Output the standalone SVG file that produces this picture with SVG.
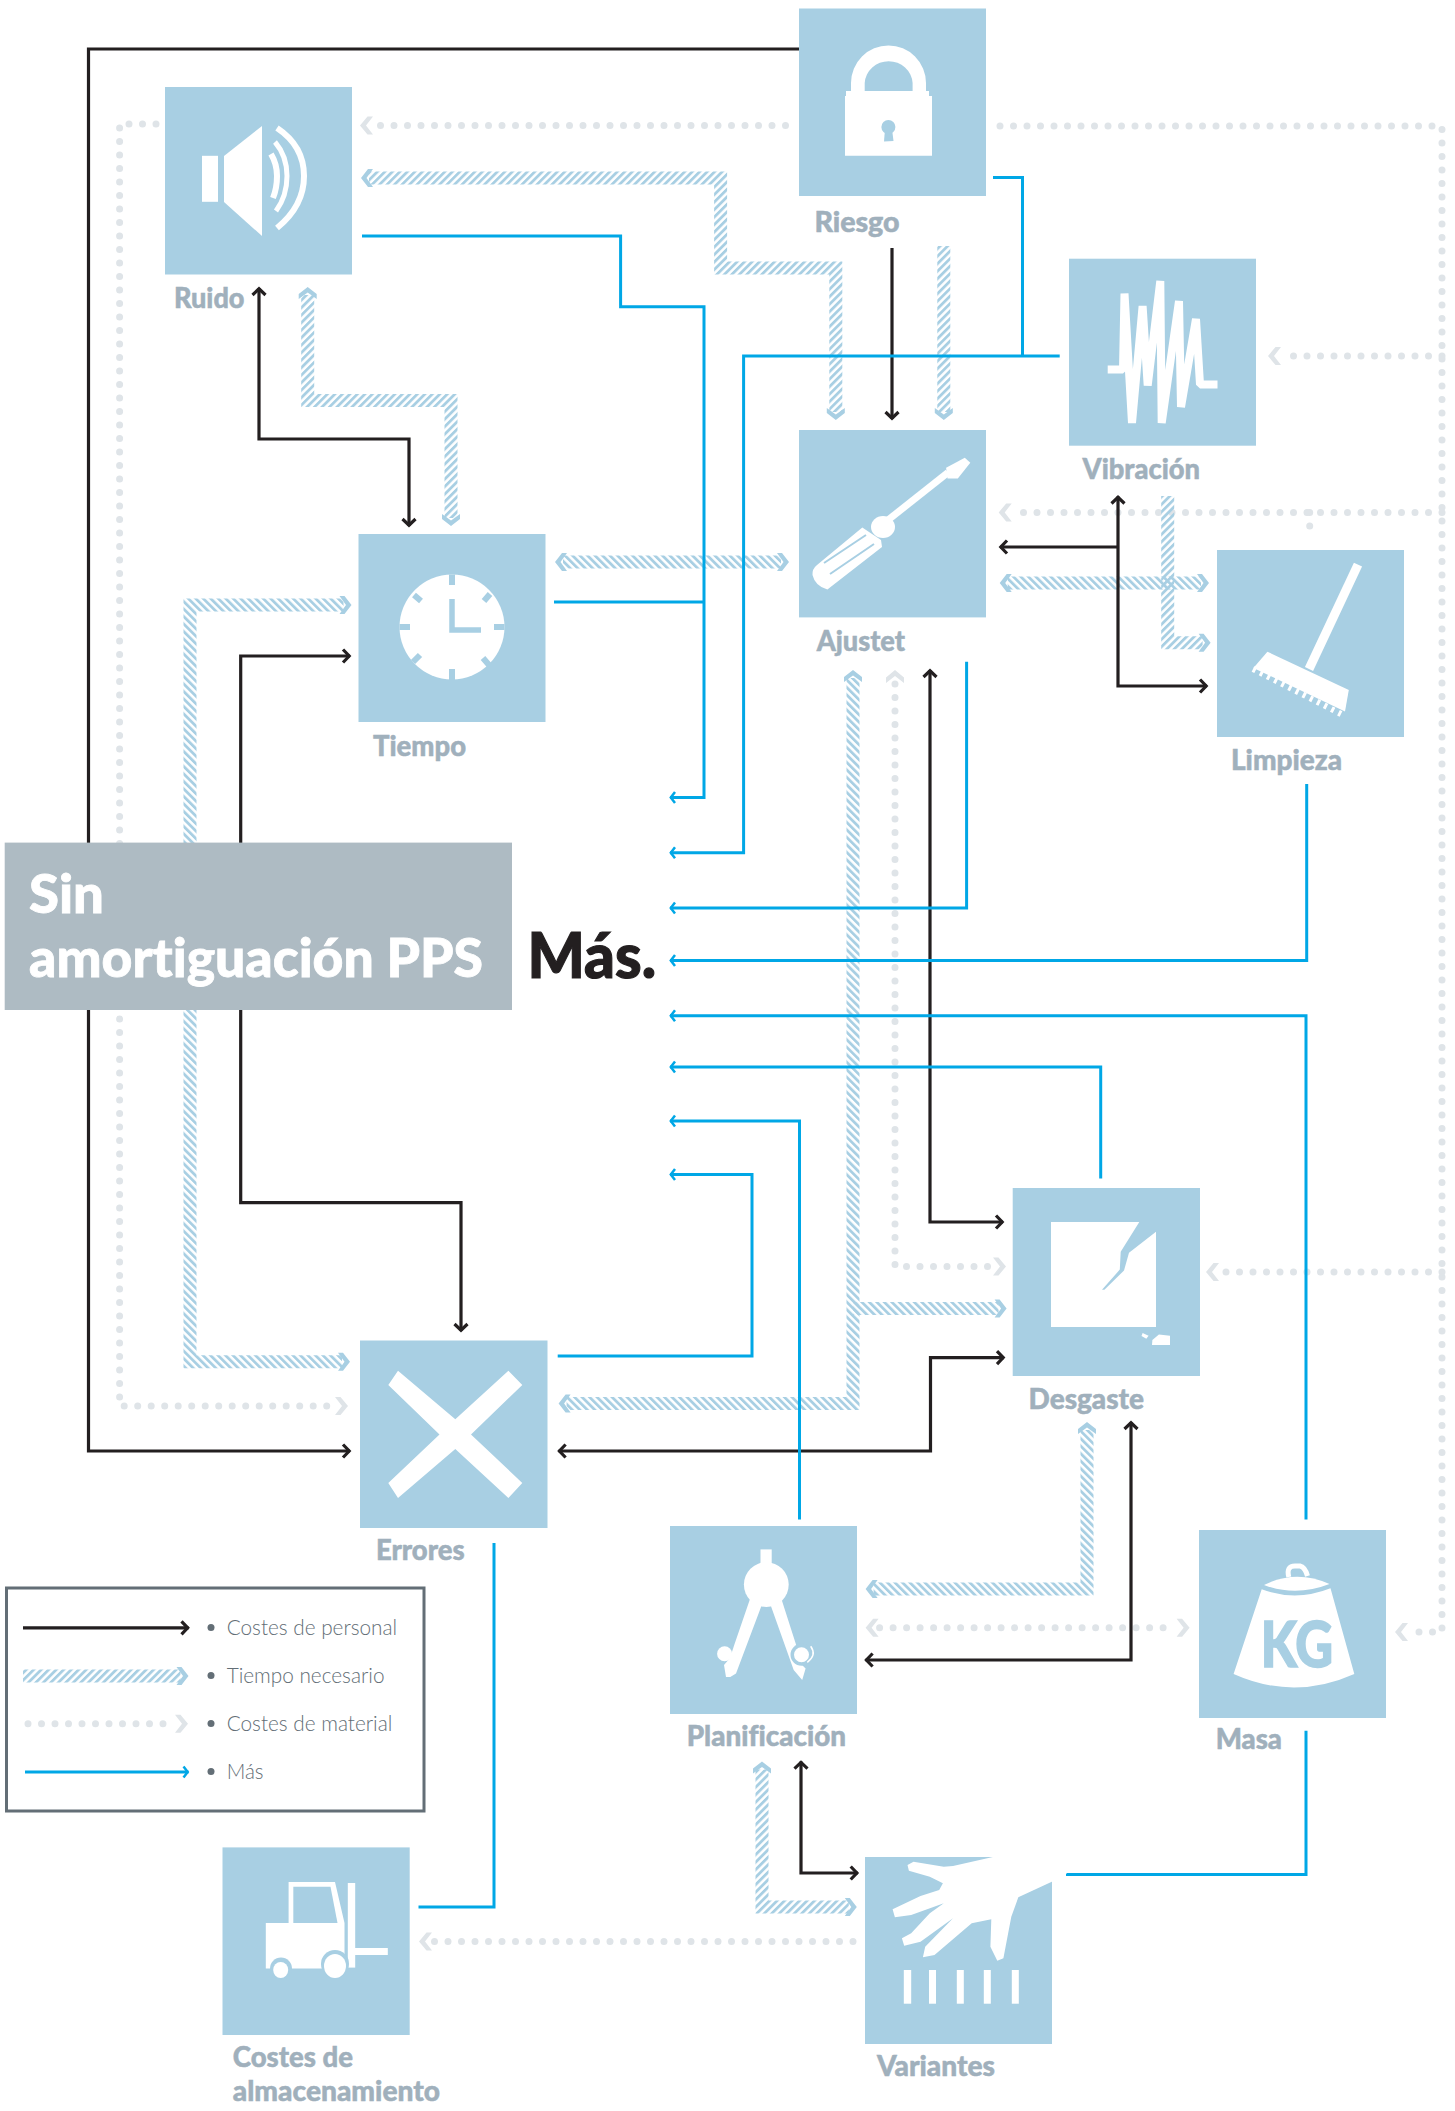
<svg xmlns="http://www.w3.org/2000/svg" width="1455" height="2111" viewBox="0 0 1455 2111">
<style>
text{font-family:Lato,"Noto Sans","Liberation Sans",sans-serif;font-variant-ligatures:none}
.lb{font-size:28px;font-weight:900;fill:#a0b0bc;stroke:#a0b0bc;stroke-width:.5}
.lg{font-size:22px;font-weight:300;fill:#636e76}
.tt{font-size:54px;font-weight:900;fill:#fff;stroke:#fff;stroke-width:.8}
.box{fill:#a8cfe3}
.w{fill:#fff}
.ws{fill:none;stroke:#fff}
.bs{fill:none;stroke:#a8cfe3}
path.c{fill:none}
.k{stroke:#231f20;stroke-width:3.2}
.u{stroke:#00a7e6;stroke-width:3}
.d{stroke:#dfe4e8;stroke-width:7;stroke-linecap:round;stroke-dasharray:0 13.5}
.hf{stroke:url(#hf);stroke-width:13}
.hb{stroke:url(#hb);stroke-width:13}
.ke{marker-end:url(#mk)}.kb{marker-start:url(#mk);marker-end:url(#mk)}
.ue{marker-end:url(#mu)}
.de{marker-end:url(#md)}.db{marker-start:url(#md);marker-end:url(#md)}
.he{marker-end:url(#mh)}.hh{marker-start:url(#mh);marker-end:url(#mh)}
</style>
<defs>
<pattern id="hf" patternUnits="userSpaceOnUse" width="5.3" height="10" patternTransform="rotate(45)"><rect width="2.8" height="10" fill="#a8cfe3"/></pattern>
<pattern id="hb" patternUnits="userSpaceOnUse" width="5.3" height="10" patternTransform="rotate(-45)"><rect width="2.8" height="10" fill="#a8cfe3"/></pattern>
<marker id="mk" markerUnits="userSpaceOnUse" orient="auto-start-reverse" refX="0" refY="0" markerWidth="30" markerHeight="30" viewBox="-15 -15 30 30"><path d="M-7,-6.5 L-0.8,0 L-7,6.5" fill="none" stroke="#231f20" stroke-width="3.2"/></marker>
<marker id="mu" markerUnits="userSpaceOnUse" orient="auto-start-reverse" refX="0" refY="0" markerWidth="30" markerHeight="30" viewBox="-15 -15 30 30"><path d="M-5,-5.5 L-0.8,0 L-5,5.5" fill="none" stroke="#00a7e6" stroke-width="2.5"/></marker>
<marker id="mh" markerUnits="userSpaceOnUse" orient="auto-start-reverse" refX="0" refY="0" markerWidth="40" markerHeight="40" viewBox="-20 -20 40 40"><polygon points="8,0 1,-9 -4,-9 2.5,0 -4,9 1,9" fill="#a8cfe3"/></marker>
<marker id="md" markerUnits="userSpaceOnUse" orient="auto-start-reverse" refX="0" refY="0" markerWidth="50" markerHeight="50" viewBox="-25 -25 50 50"><polygon points="14,0 6.5,-9 1,-9 8,0 1,9 6.5,9" fill="#dfe4e8"/></marker>
</defs>
<rect width="1455" height="2111" fill="#fff"/>
<g id="connectors">
<path class="c d de" d="M785.5,125.5 H374"/>
<path class="c d de" d="M156,124 H119.6 V1406 H334"/>
<path class="c d de" d="M1000,126 H1442 V1632 H1409"/>
<path class="c d de" d="M1442,356 H1282"/>
<path class="c d de" d="M1442,512.4 H1012.7"/>
<path class="c d" d="M1309.7,512.4 V539.400"/>
<path class="c d de" d="M1442,1272 H1220"/>
<path class="c d db" d="M895,684 V1266.500 H992"/>
<path class="c d db" d="M879.6,1627.7 H1175.6"/>
<path class="c d" d="M853,1941.5 H433"/>
<polygon points="419,1941.5 426.5,1932.5 432,1932.5 425,1941.5 432,1950.5 426.5,1950.5" fill="#dfe4e8"/>
<path class="c hf hh" d="M369,178 H720.6 V268 H835.8 V412"/>
<path class="c hf he" d="M943.8,246 V412"/>
<path class="c hf hh" d="M307.7,295 V400.4 H451 V518"/>
<path class="c hb hh" d="M563,562 H781"/>
<path class="c hb hh" d="M1007.7,583 H1201"/>
<path class="c hf he" d="M1167.7,496 V642.8 H1202.6"/>
<path class="c hb he" d="M190,843 V605 H343.5"/>
<path class="c hb he" d="M190,1010 V1361.8 H342"/>
<path class="c hb hh" d="M853,678 V1403.5 H566.6"/>
<path class="c hb he" d="M853,1308.5 H998.6"/>
<path class="c hb hh" d="M1087,1430 V1589 H873.6"/>
<path class="c hf hh" d="M762,1769.6 V1907 H848.8"/>
<path class="c k ke" d="M799,49 H88.5 V1451 H350"/>
<path class="c k kb" d="M259,288 V439 H409 V526"/>
<path class="c k ke" d="M240.7,843 V656 H350"/>
<path class="c k ke" d="M240.7,1010 V1202.7 H461 V1331"/>
<path class="c k ke" d="M892,248 V419"/>
<path class="c k kb" d="M1118,496.5 V686 H1207"/>
<path class="c k ke" d="M1118,547 H1000"/>
<path class="c k kb" d="M930,670 V1222 H1003"/>
<path class="c k kb" d="M558.6,1451 H930.5 V1357.6 H1004"/>
<path class="c k kb" d="M1131,1422 V1660 H865.6"/>
<path class="c k kb" d="M801,1761.6 V1873 H857.7"/>
<path class="c u ue" d="M362,236 H620.6 V306.7 H704 V797.5 H670"/>
<path class="c u" d="M554,602 H704"/>
<path class="c u ue" d="M1059.7,356 H743.6 V852.8 H670"/>
<path class="c u" d="M993,177.6 H1022.5 V356"/>
<path class="c u ue" d="M966.6,661.7 V908 H670"/>
<path class="c u ue" d="M1306.7,784 V960.6 H670"/>
<path class="c u ue" d="M1306,1519.6 V1015.8 H670"/>
<path class="c u ue" d="M1100.7,1178.6 V1067 H670"/>
<path class="c u ue" d="M799.5,1519.6 V1121 H670"/>
<path class="c u ue" d="M557.7,1356 H752 V1174.5 H670"/>
<path class="c u" d="M494,1543 V1907 H418.5"/>
<path class="c u" d="M1306,1730.8 V1874.6 H1066"/>
</g>
<g id="title">
<rect x="4.7" y="842.6" width="507.3" height="167.4" fill="#aebbc3"/>
<text class="tt" x="29" y="913" textLength="75" lengthAdjust="spacingAndGlyphs">Sin</text>
<text class="tt" x="29" y="977" textLength="454" lengthAdjust="spacingAndGlyphs">amortiguación PPS</text>
</g>
<text id="mas" x="527.5" y="978" font-size="63" font-weight="900" fill="#231f20" stroke="#231f20" stroke-width="1.2" textLength="128.5" lengthAdjust="spacingAndGlyphs">Más.</text>
<g id="ruido">
<rect class="box" x="165" y="87" width="187" height="187.5"/>
<rect class="w" x="202" y="155.8" width="16" height="46"/>
<polygon class="w" points="224,156 262,126 262,236 224,202"/>
<path class="ws" stroke-width="6" d="M277,128 Q304,146 304,176 Q304,206 277,228"/>
<path class="ws" stroke-width="5" d="M275,142 Q287,156 287,176 Q287,196 276,211"/>
<path class="ws" stroke-width="6" d="M271,154 Q277,164 277,176 Q277,188 273,198"/>
<text class="lb" x="174" y="308" textLength="70.5" lengthAdjust="spacingAndGlyphs">Ruido</text>
</g>
<g id="riesgo">
<rect class="box" x="799" y="8.5" width="187" height="187.5"/>
<polygon class="w" points="846,91 929,91 929,96 932,96 932,155.7 845,155.7 845,96 846,96"/>
<path class="w" fill-rule="evenodd" d="M851,91 V83 A37.5,37.5 0 0 1 926,83 V91 H912.6 V83 A24,23.3 0 0 0 864.7,83 V91 Z"/>
<circle class="box" cx="888.4" cy="127" r="7"/>
<polygon class="box" points="885,129 892,129 893.5,141 884,141.5"/>
<text class="lb" x="814.4" y="232" textLength="85.2" lengthAdjust="spacingAndGlyphs">Riesgo</text>
</g>
<g id="vibracion">
<rect class="box" x="1069" y="258.7" width="187" height="187"/>
<polyline class="ws" stroke-width="8" stroke-linejoin="bevel" points="1107.7,369.6 1123,369.6 1124.5,293.5 1132,423 1142.6,306 1147.7,385.6 1160.3,281 1161.7,423 1179,301 1181,407 1196,319 1200,384.6 1217.5,384.6"/>
<text class="lb" x="1082.5" y="479" textLength="117.5" lengthAdjust="spacingAndGlyphs">Vibración</text>
</g>
<g id="ajustet">
<rect class="box" x="799" y="430" width="187" height="187.4"/>
<polygon class="w" points="970.3,462.7 957.8,478.6 947.5,478.6 946.1,467.7 964.8,457.7"/>
<line class="ws" stroke-width="7" x1="948" y1="472.6" x2="888" y2="520"/>
<ellipse class="w" cx="883" cy="527" rx="12" ry="11"/>
<path class="w" d="M862.3,527.4 L881,540 L882,547 L827.4,589.6 Q815,586 812.5,575 Q812,569 817,565 Z"/>
<path class="bs" stroke-width="2" d="M824,563 L866,535 M830,574 L874,544"/>
<text class="lb" x="816.7" y="650.7" textLength="88.3" lengthAdjust="spacingAndGlyphs">Ajustet</text>
</g>
<g id="limpieza">
<rect class="box" x="1217" y="550" width="187" height="187"/>
<line class="ws" stroke-width="9" x1="1358" y1="564.7" x2="1309" y2="669"/>
<polygon class="w" points="1267.4,651.7 1348.8,690 1345,711.4 1253.4,668"/>
<line class="ws" stroke-width="6" stroke-dasharray="3 5" x1="1253" y1="669" x2="1341" y2="714"/>
<text class="lb" x="1231" y="769.6" textLength="111" lengthAdjust="spacingAndGlyphs">Limpieza</text>
</g>
<g id="tiempo">
<rect class="box" x="358.5" y="534" width="187" height="188"/>
<circle class="w" cx="452" cy="627" r="52.5"/>
<path class="bs" stroke-width="5.5" d="M452,599 V630 H481"/>
<g class="bs" stroke-width="6">
<path d="M452,574.5 V585 M452,669 V680 M399.500,627 H410 M494,627 H504.500"/>
<path d="M414,595 L421,601 M490,594 L484,601 M413,662 L420,655 M489,665 L483,658"/>
</g>
<text class="lb" x="373" y="756" textLength="93" lengthAdjust="spacingAndGlyphs">Tiempo</text>
</g>
<g id="errores">
<rect class="box" x="360" y="1340.500" width="187.500" height="187.500"/>
<polygon class="w" points="398,1370.700 455.300,1419.300 508.400,1370.700 522.300,1384.900 471,1434.400 522.300,1483 508.400,1498 455.300,1449 398,1498 388.300,1483 439.500,1434.400 388.300,1384.900"/>
<text class="lb" x="376" y="1560" textLength="88.600" lengthAdjust="spacingAndGlyphs">Errores</text>
</g>
<g id="desgaste">
<rect class="box" x="1012.700" y="1188" width="187.300" height="188"/>
<polygon class="w" points="1051,1222 1139.300,1222 1120.700,1251.800 1119.800,1269.600 1102,1289.700 1104.400,1289.700 1124,1270.500 1129,1252.700 1156,1231.700 1156,1327 1051,1327"/>
<polygon class="w" points="1142.600,1333 1148.600,1335.700 1146.300,1338.800 1141.500,1336"/>
<polygon class="w" points="1158.900,1334.400 1170,1335.700 1170,1345 1152,1345 1152.400,1340"/>
<text class="lb" x="1028.500" y="1409" textLength="115.500" lengthAdjust="spacingAndGlyphs">Desgaste</text>
</g>
<g id="planificacion">
<rect class="box" x="670" y="1526" width="187" height="188"/>
<rect class="w" x="760.500" y="1549.400" width="11.200" height="16"/>
<circle class="w" cx="766.300" cy="1584.600" r="22.400"/>
<polygon class="w" points="750,1599 761.500,1605.700 736,1673.500 730.300,1677 726,1677 724,1665 730,1658 734.400,1644.600"/>
<circle class="w" cx="724.600" cy="1653.800" r="7.500"/>
<polygon class="w" points="771,1606.300 781.900,1600.600 796,1644.600 801,1664 805.600,1668.400 802.200,1680 793.700,1670"/>
<circle class="box" cx="801.500" cy="1654.800" r="11"/>
<circle class="w" cx="801.500" cy="1654.800" r="7.500"/>
<path class="ws" stroke-width="1.500" d="M810.700,1646.300 Q817,1655 807.300,1662.300"/>
<text class="lb" x="686.700" y="1746" textLength="159.300" lengthAdjust="spacingAndGlyphs">Planificación</text>
</g>
<g id="masa">
<rect class="box" x="1199" y="1530" width="187" height="188"/>
<path class="ws" stroke-width="5" d="M1288.800,1577 Q1286,1566 1295,1566 L1300,1566 Q1305,1567 1307.500,1576"/>
<path class="w" d="M1264,1585 Q1296,1569 1329.500,1584 Q1296,1597 1264,1585 Z"/>
<path class="w" d="M1261.700,1589.300 Q1296,1602 1330.500,1588.300 L1354.300,1674 Q1294,1701 1233.600,1674 Z"/>
<text x="1260.700" y="1666.600" font-size="63" font-weight="900" fill="#a8cfe3" stroke="#a8cfe3" stroke-width="1.500" textLength="72.300" lengthAdjust="spacingAndGlyphs">KG</text>
<text class="lb" x="1215.700" y="1748.600" textLength="66.300" lengthAdjust="spacingAndGlyphs">Masa</text>
</g>
<g id="costes-almacenamiento">
<rect class="box" x="222.500" y="1847.400" width="187.200" height="187.600"/>
<polygon class="w" points="288.600,1882 335,1882 344.500,1923 344.500,1968.600 265.800,1968.600 265.800,1923 288.600,1923"/>
<polygon class="box" points="293.300,1886.800 330.500,1886.800 337.500,1923 293.300,1923"/>
<rect class="w" x="347.800" y="1883" width="7.400" height="84.600"/>
<rect class="w" x="355" y="1948" width="32.800" height="7"/>
<circle class="box" cx="281" cy="1968.500" r="11"/>
<ellipse class="w" cx="280.700" cy="1970" rx="7.500" ry="8"/>
<circle class="box" cx="335" cy="1964" r="14"/>
<ellipse class="w" cx="335" cy="1966" rx="11" ry="12"/>
<text class="lb" x="232.800" y="2066.700" textLength="120.200" lengthAdjust="spacingAndGlyphs">Costes de</text>
<text class="lb" x="232.800" y="2101" textLength="207.200" lengthAdjust="spacingAndGlyphs">almacenamiento</text>
</g>
<g id="variantes">
<rect class="box" x="865" y="1857" width="187" height="187"/>
<polygon class="w" points="997.300,1856 953,1866 943.800,1866.700 913.500,1861.700 907.500,1865 908.900,1870.700 929.800,1876.700 942.900,1883.300 939.200,1890 920.500,1896 892.600,1909.300 894.900,1917.300 911.200,1915 943.800,1903.300 929.800,1913.300 911.200,1933.300 901.900,1938.300 904.200,1945.700 920.500,1941.700 953,1918.300 925.200,1946.700 922.900,1957.300 934.500,1955 971.700,1923.300 991.300,1919.300 990.400,1946.700 997.300,1960.700 1003.400,1958.300 1011.300,1916.700 1018.300,1897.300 1051.800,1881.700 1067,1873.300 1067,1856"/>
<g class="w">
<rect x="903.800" y="1970" width="7.400" height="33.700"/>
<rect x="929" y="1970" width="7" height="33.700"/>
<rect x="956.800" y="1970" width="7" height="33.700"/>
<rect x="983.800" y="1970" width="7" height="33.700"/>
<rect x="1011.800" y="1970" width="7" height="33.700"/>
</g>
<text class="lb" x="877" y="2076" textLength="118" lengthAdjust="spacingAndGlyphs">Variantes</text>
</g>
<g id="legend">
<rect x="6.500" y="1588" width="417.500" height="223" fill="none" stroke="#636e76" stroke-width="3"/>
<path class="c k ke" d="M23,1627.800 H188.500"/>
<path class="c hf he" d="M23,1676 H180.500"/>
<path class="c d de" d="M28,1723.700 H174"/>
<path class="c u ue" d="M25,1772 H188.500"/>
<g fill="#636e76"><circle cx="211" cy="1627.500" r="3.500"/><circle cx="211" cy="1675.500" r="3.500"/><circle cx="211" cy="1723.500" r="3.500"/><circle cx="211" cy="1771.500" r="3.500"/></g>
<text class="lg" x="226.700" y="1634.800" textLength="170.400" lengthAdjust="spacingAndGlyphs">Costes de personal</text>
<text class="lg" x="226.700" y="1683" textLength="157.800" lengthAdjust="spacingAndGlyphs">Tiempo necesario</text>
<text class="lg" x="226.700" y="1731" textLength="165.700" lengthAdjust="spacingAndGlyphs">Costes de material</text>
<text class="lg" x="226.700" y="1779" textLength="36.800" lengthAdjust="spacingAndGlyphs">Más</text>
</g>
</svg>
